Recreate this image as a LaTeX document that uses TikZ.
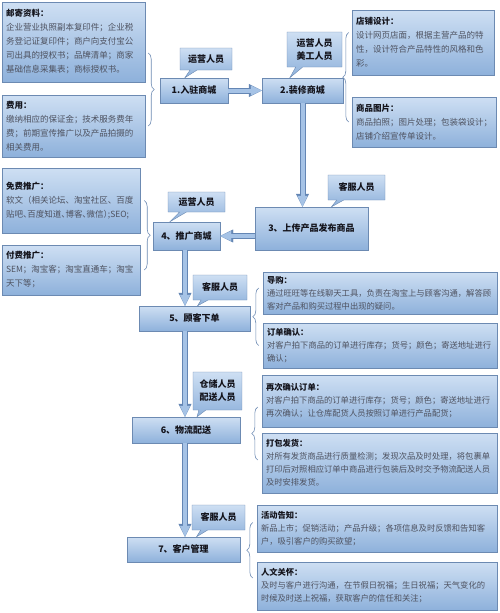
\documentclass[tikz,border=0pt]{standalone}
\usepackage{fontspec}
\setmainfont{Noto Sans CJK SC}
\usetikzlibrary{shapes.callouts,shadows,arrows.meta,decorations.pathreplacing}

\definecolor{boxtop}{RGB}{206,223,243}
\definecolor{boxbot}{RGB}{142,177,219}
\definecolor{boxline}{RGB}{108,138,178}
\definecolor{arrowfill}{RGB}{166,195,230}
\definecolor{arrowline}{RGB}{100,134,180}
\definecolor{bodytext}{RGB}{78,82,96}
\definecolor{titletext}{RGB}{20,20,28}

\tikzstyle{block} = [draw=boxline, rectangle, text centered, top color=boxtop, bottom color=boxbot, text=titletext, font=\fontsize{9}{12}\selectfont\bfseries, drop shadow={shadow xshift=1.2pt, shadow yshift=-1.2pt, opacity=0.3}]
\tikzstyle{infobox} = [draw=boxline, rectangle, align=left, inner sep=4pt, top color=boxtop, bottom color=boxbot, text=bodytext, font=\fontsize{8.5}{14}\selectfont, drop shadow={shadow xshift=1.2pt, shadow yshift=-1.2pt, opacity=0.3}]
\tikzstyle{wideinfo} = [infobox, font=\fontsize{8.3}{13}\selectfont]
\tikzstyle{callbox} = [rectangle callout, draw=boxline, align=center, inner sep=2pt, callout pointer width=7pt, top color=boxtop, bottom color=boxbot, text=titletext, font=\fontsize{9}{13}\selectfont\bfseries]
\tikzstyle{bigarrow} = [draw=arrowfill, line width=4pt, -{Triangle[length=11pt,width=10pt,line width=0.4pt]}, preaction={draw=arrowline, line width=6pt, -{Triangle[length=13pt,width=13pt,line width=0.4pt]}}]
\tikzstyle{curly} = [draw=boxline, line width=0.6pt, decorate, decoration={brace, amplitude=6pt}]

\newcommand{\boxtitle}[1]{{\bfseries\color{titletext}#1}}
\newcommand{\halfpunct}[1]{\makebox[0.5em][l]{#1}}

\begin{document}
\begin{tikzpicture}[x=1pt, y=-1pt]
	\useasboundingbox (0,0) rectangle (500,613);

	% main steps
	\node [block, minimum width=68pt, minimum height=25pt] (enter) at (194,90.5) {1.入驻商城};
	\node [block, minimum width=81pt, minimum height=25pt] (design) at (302.5,90.5) {2.装修商城};
	\node [block, minimum width=113pt, minimum height=43pt] (upload) at (311.5,228.5) {3、上传产品发布商品};
	\node [block, minimum width=67pt, minimum height=28pt] (promote) at (186.5,236) {4、推广商城};
	\node [block, minimum width=111pt, minimum height=25pt] (order) at (194.5,318.5) {5、顾客下单};
	\node [block, minimum width=108pt, minimum height=26pt] (ship) at (186,430) {6、物流配送};
	\node [block, minimum width=113pt, minimum height=25pt] (manage) at (183.5,549.5) {7、客户管理};
	\coordinate (spine) at (185,0);

	% staff
	\node [callbox, minimum width=52pt, minimum height=22pt, callout absolute pointer={([xshift=25pt]enter.north west)}] (staff1) at (206,59) {运营人员};
	\node [callbox, minimum width=55pt, minimum height=35pt, callout absolute pointer={([xshift=28pt]design.north west)}] (staff2) at (314.5,49.5) {运营人员\\美工人员};
	\node [callbox, minimum width=57pt, minimum height=25pt, callout absolute pointer={([xshift=20pt]upload.north)}] (staff3) at (356.5,187.5) {客服人员};
	\node [callbox, minimum width=57pt, minimum height=20pt, callout absolute pointer={([xshift=17pt]promote.north west)}] (staff4) at (196.5,202) {运营人员};
	\node [callbox, minimum width=54pt, minimum height=25pt, callout absolute pointer={([xshift=3pt]order.north)}] (staff5) at (220,287.5) {客服人员};
	\node [callbox, minimum width=49pt, minimum height=38pt, callout absolute pointer={([xshift=11pt]ship.north)}] (staff6) at (217.5,391) {仓储人员\\配送人员};
	\node [callbox, minimum width=53pt, minimum height=25pt, callout absolute pointer={([xshift=13pt]manage.north)}] (staff7) at (218.5,517.5) {客服人员};

	% details
	\node [infobox, text width=135pt, minimum height=80pt] (mail) at (73.5,42) {\boxtitle{邮寄资料：}\\企业营业执照副本复印件；企业税\\务登记证复印件；商户向支付宝公\\司出具的授权书；品牌清单；商家\\基础信息采集表；商标授权书。};
	\node [infobox, text width=135pt, minimum height=62pt] (fee) at (73.5,126) {\boxtitle{费用：}\\缴纳相应的保证金；技术服务费年\\费；前期宣传推广以及产品拍摄的\\相关费用。};
	\node [infobox, text width=134pt, minimum height=65pt] (shop) at (423,42.5) {\boxtitle{店铺设计：}\\设计网页店面，根据主营产品的特\\性，设计符合产品特性的风格和色\\彩。};
	\node [infobox, text width=136pt, minimum height=50pt] (photo) at (424,122) {\boxtitle{商品图片：}\\商品拍照；图片处理；包装袋设计；\\店铺介绍宣传单设计。};
	\node [infobox, text width=130pt, minimum height=65pt] (free) at (71,200.5) {\boxtitle{免费推广：}\\软文（相关论坛、淘宝社区、百度\\贴吧\halfpunct{、}百度知道\halfpunct{、}博客\halfpunct{、}微信\halfpunct{）};SEO;};
	\node [infobox, text width=130pt, minimum height=50pt] (paid) at (71,270) {\boxtitle{付费推广：}\\SEM；淘宝客；淘宝直通车；淘宝\\天下等；};
	\node [wideinfo, text width=226pt, minimum height=40pt] (guide) at (380,293) {\boxtitle{导购：}\\通过旺旺等在线聊天工具，负责在淘宝上与顾客沟通，解答顾\\客对产品和购买过程中出现的疑问。};
	\node [wideinfo, text width=226pt, minimum height=45pt] (confirm) at (380,345.5) {\boxtitle{订单确认：}\\对客户拍下商品的订单进行库存；货号；颜色；寄送地址进行\\确认；};
	\node [wideinfo, text width=227pt, minimum height=52pt] (reconfirm) at (379.5,401) {\boxtitle{再次确认订单：}\\对客户拍下商品的订单进行库存；货号；颜色；寄送地址进行\\再次确认；让仓库配货人员按照订单进行产品配货；};
	\node [wideinfo, text width=227pt, minimum height=60pt] (pack) at (379.5,463) {\boxtitle{打包发货：}\\对所有发货商品进行质量检测；发现次品及时处理，将包裹单\\打印后对照相应订单中商品进行包装后及时交予物流配送人员\\及时安排发货。};
	\node [wideinfo, text width=232pt, minimum height=47pt] (event) at (377,528.5) {\boxtitle{活动告知：}\\新品上市；促销活动；产品升级；各项信息及时反馈和告知客\\户，吸引客户的购买欲望；};
	\node [wideinfo, text width=232pt, minimum height=48pt] (care) at (377,586) {\boxtitle{人文关怀：}\\及时与客户进行沟通，在节假日祝福；生日祝福；天气变化的\\时候及时送上祝福，获取客户的信任和关注；};

	% flow
	\draw [bigarrow] (enter) -- (design);
	\draw [bigarrow] (design.south) -- (design.south |- upload.north);
	\draw [bigarrow] (upload.west |- promote.east) -- (promote.east);
	\draw [bigarrow] (spine |- promote.south) -- (spine |- order.north);
	\draw [bigarrow] (spine |- order.south) -- (spine |- ship.north);
	\draw [bigarrow] (spine |- ship.south) -- (spine |- manage.north);

	% braces
	\draw [curly] ([xshift=3pt,yshift=-11pt]mail.east) -- ([xshift=3pt]fee.east);
	\draw [curly] ([xshift=-3pt]photo.west) -- ([xshift=-3pt,yshift=10pt]shop.west);
	\draw [curly] ([xshift=4pt]free.east) -- ([xshift=4pt]paid.east);
	\draw [curly] ([xshift=-4pt]confirm.west) -- ([xshift=-4pt,yshift=5pt]guide.west);
	\draw [curly] ([xshift=-4pt,yshift=3pt]pack.west) -- ([xshift=-4pt,yshift=-6pt]reconfirm.west);
	\draw [curly] ([xshift=-4pt,yshift=8pt]care.west) -- ([xshift=-4pt,yshift=6pt]event.west);
\end{tikzpicture}
\end{document}
